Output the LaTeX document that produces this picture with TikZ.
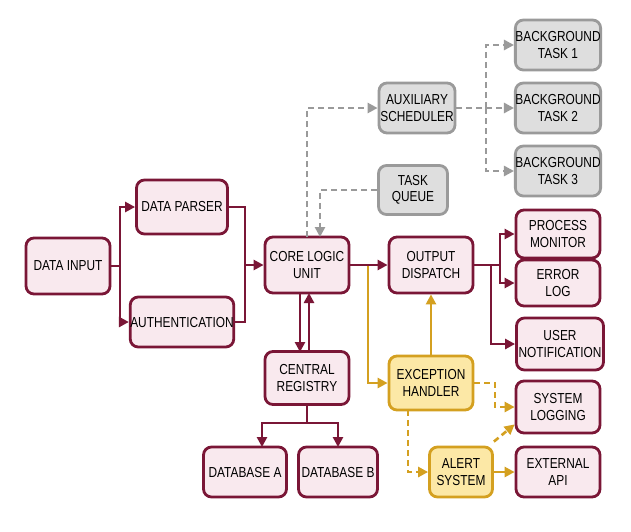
\documentclass[tikz,border=0pt]{standalone}
\usepackage{fontspec}
\setmainfont{Liberation Sans}[FakeStretch=0.82]
\usetikzlibrary{arrows.meta}
\definecolor{mar}{HTML}{7A1636}
\definecolor{pk}{HTML}{F9E9EE}
\definecolor{yl}{HTML}{D4A020}
\definecolor{ylf}{HTML}{FCE8A6}
\definecolor{gr}{HTML}{9A9A9A}
\definecolor{grf}{HTML}{DEDEDE}
\begin{document}
\begin{tikzpicture}[x=1pt,y=-1pt,
 box/.style={draw=mar,fill=pk,line width=2.8pt,rounded corners=8pt,align=center,
   font=\fontsize{14.5}{16.5}\selectfont,inner sep=0pt},
 ybox/.style={box,draw=yl,fill=ylf},
 gbox/.style={box,draw=gr,fill=grf},
 m/.style={draw=mar,line width=2.6pt,-{Triangle[length=10pt,width=10pt]}},
 ml/.style={draw=mar,line width=2.6pt},
 ya/.style={draw=yl,line width=2.6pt,-{Triangle[length=10pt,width=10pt]}},
 yd/.style={ya,dash pattern=on 6pt off 4pt},
 g/.style={draw=gr,line width=2.6pt,dash pattern=on 6pt off 4pt,-{Triangle[length=10pt,width=10pt]}},
 gl/.style={draw=gr,line width=2.6pt,dash pattern=on 6pt off 4pt}]
\useasboundingbox (0,0) rectangle (631,531);
\fill[white] (0,0) rectangle (631,531);
\node[box,minimum width=84pt,minimum height=56pt] (in) at (68,266) {DATA INPUT};
\node[box,minimum width=91pt,minimum height=54pt] (dp) at (182,207) {DATA PARSER};
\node[box,minimum width=91pt,minimum height=50pt] (au) at (182,322) {AUTHENTICATION};
\node[box,minimum width=84pt,minimum height=56pt] (cl) at (307,265) {CORE LOGIC\\UNIT};
\node[box,minimum width=84pt,minimum height=53pt] (cr) at (307,378) {CENTRAL\\REGISTRY};
\node[box,minimum width=83pt,minimum height=50pt] (da) at (245,472) {DATABASE A};
\node[box,minimum width=79pt,minimum height=50pt] (db) at (338,472) {DATABASE B};
\node[box,minimum width=84pt,minimum height=56pt] (od) at (431,265) {OUTPUT\\DISPATCH};
\node[ybox,minimum width=84pt,minimum height=54pt] (eh) at (431,383) {EXCEPTION\\HANDLER};
\node[ybox,minimum width=63pt,minimum height=50pt] (as) at (461,472) {ALERT\\SYSTEM};
\node[gbox,minimum width=76pt,minimum height=50pt] (ax) at (417,108) {AUXILIARY\\SCHEDULER};
\node[gbox,minimum width=69pt,minimum height=49pt] (tq) at (413,190) {TASK\\QUEUE};
\node[gbox,minimum width=84pt,minimum height=50pt] (b1) at (558,45) {BACKGROUND\\TASK 1};
\node[gbox,minimum width=84pt,minimum height=50pt] (b2) at (558,108) {BACKGROUND\\TASK 2};
\node[gbox,minimum width=84pt,minimum height=50pt] (b3) at (558,171) {BACKGROUND\\TASK 3};
\node[box,minimum width=84pt,minimum height=48pt] (pm) at (558,234) {PROCESS\\MONITOR};
\node[box,minimum width=84pt,minimum height=46pt] (el) at (558,283) {ERROR\\LOG};
\node[box,minimum width=87pt,minimum height=52pt] (un) at (560,344) {USER\\NOTIFICATION};
\node[box,minimum width=84pt,minimum height=52pt] (sl) at (558,407) {SYSTEM\\LOGGING};
\node[box,minimum width=84pt,minimum height=50pt] (ea) at (558,472) {EXTERNAL\\API};
% input split
\draw[ml] (in.east) -- (120,266);
\draw[m] (120,266) |- (dp.west);
\draw[m] (120,266) |- (au.west);
\draw[ml] (dp.east) -| (245,266);
\draw[ml] (au.east) -| (245,266);
\draw[m] (245,265) -- (cl.west);
% core to exception (yellow)
\draw[ya] (cl.east) -- (368,265) |- (eh.west);
\draw[m] (368,265) -- (od.west);
\draw[ml] (cl.east) -- (368,265);
% core <-> registry
\draw[m] (300,293) -- (300,352);
\draw[m] (309,352) -- (309,293);
% registry to DBs
\draw[ml] (cr.south) -- (307,423);
\draw[m] (307,423) -| (262,447);
\draw[m] (307,423) -| (338,447);
% output dispatch branches
\draw[ml] (od.east) -- (500,265);
\draw[m] (500,265) |- (pm.west);
\draw[m] (500,265) |- (el.west);
\draw[m] (491,265) |- (un.west);
% exception
\draw[ya] (eh.north) -- (od.south);
\draw[yd] (eh.east) -- (495,383) |- (sl.west);
\draw[yd] (408,410) |- (as.west);
\draw[yd] ([yshift=4pt]as.north east) -- ([yshift=10pt]sl.south west);
\draw[ya] (as.east) -- (ea.west);
% grey
\draw[g] (307,237) |- (ax.west);
\draw[g] (tq.west) -| (320,237);
\draw[gl] (ax.east) -- (486,108);
\draw[g] (486,108) -- (b2.west);
\draw[g] (486,108) |- (b1.west);
\draw[g] (486,108) |- (b3.west);
\end{tikzpicture}
\end{document}
